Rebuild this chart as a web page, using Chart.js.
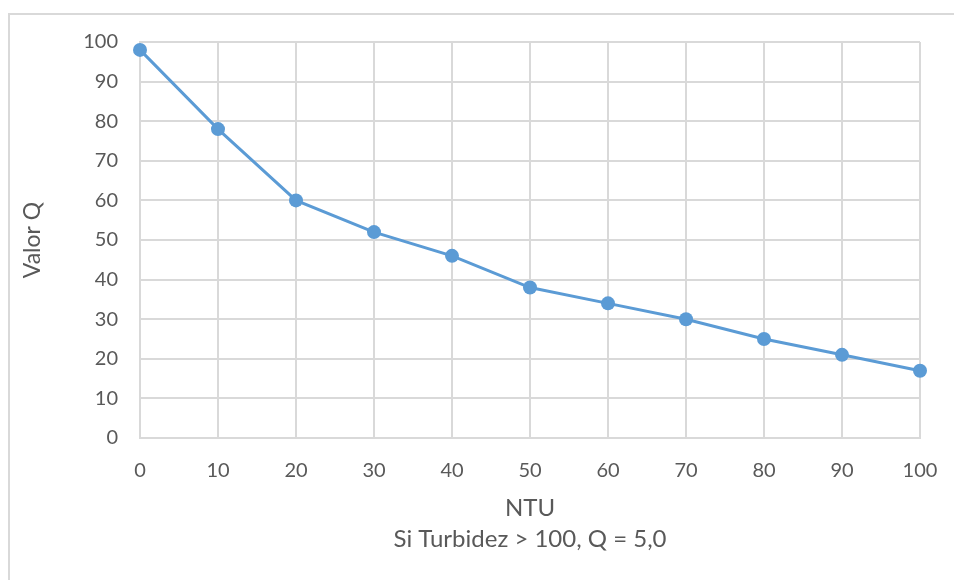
<!DOCTYPE html>
<html>
<head>
<meta charset="utf-8">
<script src="https://cdn.jsdelivr.net/npm/chart.js@4"></script>
<style>
  html, body { margin:0; padding:0; background:#fff; }
  #wrap { position:relative; width:954px; height:580px; overflow:hidden; }
  #frame { position:absolute; left:8px; top:13px; width:960px; height:600px;
           border-left:2px solid #d9d9d9; border-top:2px solid #d9d9d9; }
  canvas { position:absolute; left:0; top:0; }
</style>
</head>
<body>
<div id="wrap">
  <div id="frame"></div>
  <canvas id="chart-q" width="954" height="580"></canvas>
</div>
<script>
// Valor Q vs turbidez (NTU)
const ntu    = [0, 10, 20, 30, 40, 50, 60, 70, 80, 90, 100];
const valorQ = [98, 78, 60, 52, 46, 38, 34, 30, 25, 21, 17];
const xTitle = ['NTU', 'Si Turbidez > 100, Q = 5,0'];
const yTitle = 'Valor Q';

const FONT = 'Lato, "Open Sans", sans-serif';
const GRID = '#d9d9d9';
const TXT  = '#595959';

new Chart(document.getElementById('chart-q'), {
  type: 'scatter',
  data: {
    datasets: [{
      data: ntu.map((x, i) => ({ x, y: valorQ[i] })),
      showLine: true,
      borderColor: '#5b9bd5',
      backgroundColor: '#5b9bd5',
      borderWidth: 3,
      pointRadius: 7,
      pointHoverRadius: 7,
      pointBorderWidth: 0,
      clip: false
    }]
  },
  options: {
    responsive: false,
    animation: false,
    layout: { padding: { left: 0, top: 42, right: 34, bottom: 0 } },
    plugins: { legend: { display: false }, tooltip: { enabled: false } },
    scales: {
      x: {
        type: 'linear', min: 0, max: 100,
        // fixed axis box; edge labels fit inside the layout padding
        afterFit: s => { s.height = 142; s.paddingLeft = 0; s.paddingRight = 0; },
        ticks: { stepSize: 10, color: TXT, font: { family: FONT, size: 20 }, padding: 21 },
        grid: { color: GRID, lineWidth: 2, drawTicks: false },
        border: { color: GRID, width: 2 },
        title: {
          display: true, text: xTitle, color: TXT,
          font: { family: FONT, size: 24, lineHeight: '31px' },
          padding: { top: 0, bottom: 25 }
        }
      },
      y: {
        min: 0, max: 100,
        afterFit: s => { s.width = 140; s.paddingTop = 0; s.paddingBottom = 0; },
        ticks: { stepSize: 10, color: TXT, font: { family: FONT, size: 20 }, padding: 22 },
        grid: { color: GRID, lineWidth: 2, drawTicks: false },
        border: { color: GRID, width: 2 },
        title: {
          display: true, text: yTitle, color: TXT,
          font: { family: FONT, size: 23 },
          padding: { top: 19, bottom: 0 }
        }
      }
    }
  }
});
</script>
</body>
</html>
